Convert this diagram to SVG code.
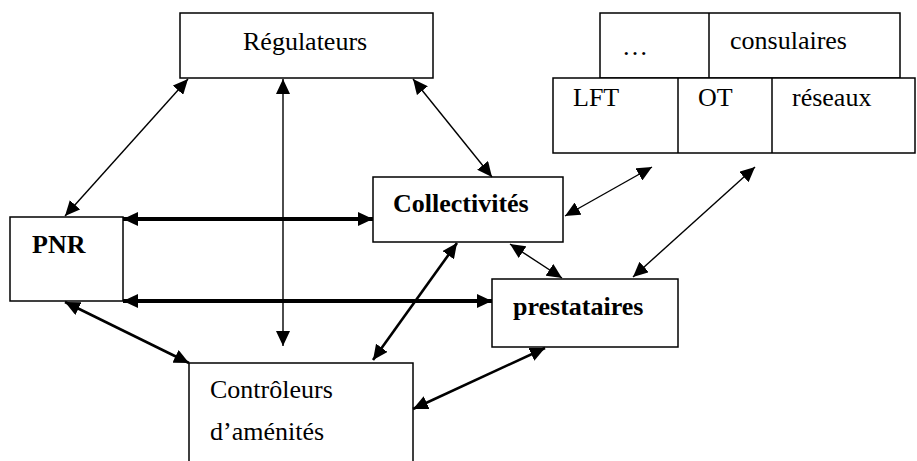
<svg xmlns="http://www.w3.org/2000/svg" width="917" height="461" viewBox="0 0 917 461">
  <style>
    .box { fill: #fff; stroke: #000; stroke-width: 1.5; }
    .lbl { font-family: "Liberation Serif", "Times New Roman", serif; font-size: 26px; fill: #000; }
    .b { font-weight: bold; }
    .thin { stroke: #000; stroke-width: 1.4; fill: none; marker-start: url(#h); marker-end: url(#h); }
    .mid { stroke: #000; stroke-width: 2.6; fill: none; marker-start: url(#h); marker-end: url(#h); }
    .thick { stroke: #000; stroke-width: 3.8; fill: none; marker-start: url(#h); marker-end: url(#h); }
  </style>
  <defs>
    <marker id="h" markerUnits="userSpaceOnUse" viewBox="0 0 15 14" refX="15" refY="7" markerWidth="15" markerHeight="14" orient="auto-start-reverse">
      <path d="M0,0 L15,7 L0,14 Z" fill="#000"/>
    </marker>
  </defs>

  <rect width="917" height="461" fill="#fff"/>

  <g id="regulateurs">
    <rect class="box" x="180" y="13" width="253" height="65"/>
    <text class="lbl" x="243" y="50">Régulateurs</text>
  </g>

  <g id="organismes">
    <rect class="box" x="600" y="13" width="300" height="65"/>
    <line x1="709" y1="13" x2="709" y2="78" stroke="#000" stroke-width="1.5"/>
    <text class="lbl" x="622" y="55">…</text>
    <text class="lbl" x="730" y="49">consulaires</text>
    <rect class="box" x="553" y="78" width="362" height="75"/>
    <line x1="678" y1="78" x2="678" y2="153" stroke="#000" stroke-width="1.5"/>
    <line x1="772" y1="78" x2="772" y2="153" stroke="#000" stroke-width="1.5"/>
    <text class="lbl" x="573" y="106">LFT</text>
    <text class="lbl" x="698" y="106">OT</text>
    <text class="lbl" x="792" y="106">réseaux</text>
  </g>

  <g id="pnr">
    <rect class="box" x="10" y="217" width="113" height="84"/>
    <text class="lbl b" x="32" y="253">PNR</text>
  </g>

  <g id="collectivites">
    <rect class="box" x="373" y="177" width="190" height="65"/>
    <text class="lbl b" x="393" y="212">Collectivités</text>
  </g>

  <g id="prestataires">
    <rect class="box" x="492" y="279" width="186" height="68"/>
    <text class="lbl b" x="513" y="315">prestataires</text>
  </g>

  <g id="controleurs">
    <rect class="box" x="189" y="363" width="224" height="110"/>
    <text class="lbl" x="210" y="398">Contrôleurs</text>
    <text class="lbl" x="210" y="440">d’aménités</text>
  </g>

  <g id="connecteurs">
    <line class="thin" x1="188" y1="79" x2="65" y2="216"/>
    <line class="thin" x1="283" y1="79" x2="283" y2="346"/>
    <line class="thin" x1="413" y1="79" x2="492" y2="177"/>
    <line class="thick" x1="123" y1="219" x2="373" y2="219"/>
    <line class="thick" x1="123" y1="301" x2="492" y2="301"/>
    <line class="mid" x1="65" y1="302" x2="189" y2="363"/>
    <line class="mid" x1="457" y1="243" x2="373" y2="360"/>
    <line class="thin" x1="510" y1="244" x2="562" y2="278"/>
    <line class="thin" x1="565" y1="216" x2="652" y2="167"/>
    <line class="thin" x1="633" y1="277" x2="755" y2="167"/>
    <line class="mid" x1="545" y1="348" x2="413" y2="409"/>
  </g>
</svg>
